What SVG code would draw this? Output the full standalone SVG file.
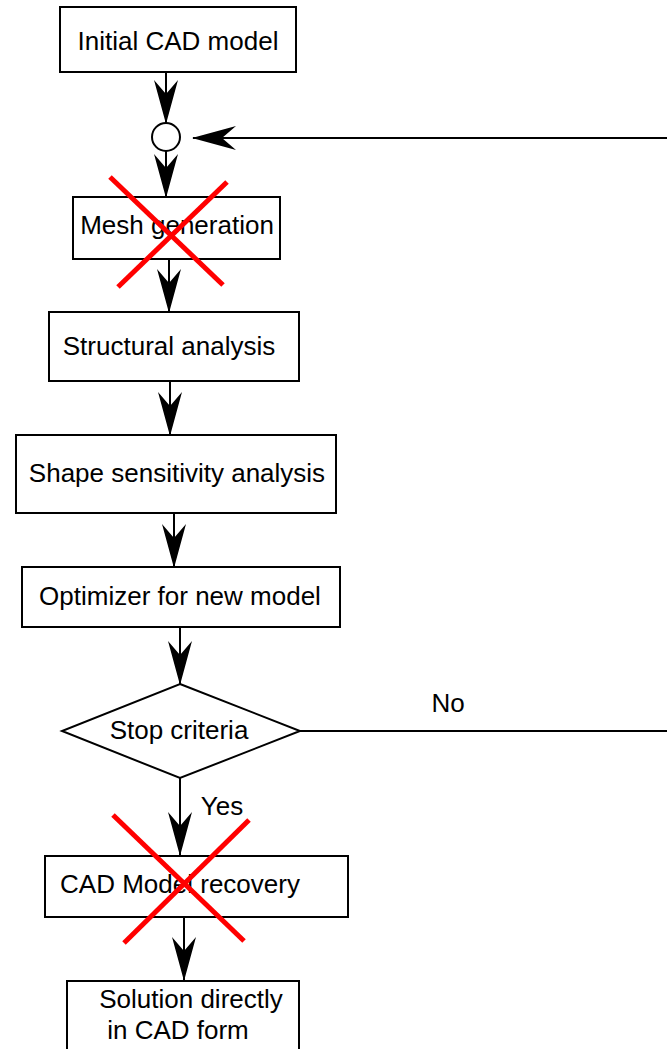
<svg xmlns="http://www.w3.org/2000/svg" width="667" height="1049" viewBox="0 0 667 1049">
<style>
.box{fill:#fff;stroke:#000;stroke-width:2}
.lbl{font-family:"Liberation Sans",Arial,sans-serif;font-size:26px;fill:#000;text-anchor:middle}
.edge{fill:none;stroke:#000;stroke-width:2}
.arr{marker-end:url(#ah)}
.cross{stroke:#ff0000;stroke-width:5;fill:none}
</style>
<defs>
<marker id="ah" viewBox="0 0 44 24" markerWidth="44" markerHeight="24" refX="43" refY="12" orient="auto" markerUnits="userSpaceOnUse">
<path d="M0,0 L44,12 L0,24 L14,12 Z" fill="#000"/>
</marker>
</defs>
<rect width="667" height="1049" fill="#fff"/>
<g id="connectors">
<line class="edge arr" x1="166" y1="72" x2="166" y2="123"/>
<line class="edge arr" x1="166" y1="151" x2="166" y2="197"/>
<line class="edge arr" x1="169" y1="259" x2="169" y2="312"/>
<line class="edge arr" x1="170" y1="381" x2="170" y2="435"/>
<line class="edge arr" x1="174" y1="513" x2="174" y2="567"/>
<line class="edge arr" x1="180" y1="627" x2="180" y2="684"/>
<line class="edge arr" x1="180" y1="778" x2="180" y2="855"/>
<line class="edge arr" x1="184" y1="917" x2="184" y2="980"/>
<polyline class="edge arr" points="300,731 700,731 700,138 193,138"/>
<text class="lbl" x="448" y="712">No</text>
<text class="lbl" x="222" y="815">Yes</text>
</g>
<g id="n_initial">
<rect class="box" x="60" y="7" width="236" height="65"/>
<text class="lbl" x="178" y="50">Initial CAD model</text>
</g>
<g id="n_junction">
<circle cx="166" cy="137" r="14" fill="#fff" stroke="#000" stroke-width="2"/>
</g>
<g id="n_mesh">
<rect class="box" x="73" y="197" width="207" height="62"/>
<text class="lbl" x="177" y="234">Mesh generation</text>
</g>
<g id="n_struct">
<rect class="box" x="49" y="312" width="250" height="69"/>
<text class="lbl" x="169" y="355">Structural analysis</text>
</g>
<g id="n_shape">
<rect class="box" x="16" y="435" width="320" height="78"/>
<text class="lbl" x="177" y="482">Shape sensitivity analysis</text>
</g>
<g id="n_opt">
<rect class="box" x="22" y="567" width="318" height="60"/>
<text class="lbl" x="180" y="605">Optimizer for new model</text>
</g>
<g id="n_stop">
<polygon class="box" points="180,684 300,731 180,778 62,731"/>
<text class="lbl" x="179" y="739">Stop criteria</text>
</g>
<g id="n_cad">
<rect class="box" x="45" y="856" width="303" height="61"/>
<text class="lbl" x="180" y="893">CAD Model recovery</text>
</g>
<g id="n_solution">
<rect class="box" x="67" y="981" width="232" height="100"/>
<text class="lbl" x="191" y="1008">Solution directly</text>
<text class="lbl" x="178" y="1039">in CAD form</text>
</g>
<g id="cross_mesh">
<line class="cross" x1="110" y1="177" x2="223" y2="285"/>
<line class="cross" x1="227" y1="182" x2="118" y2="287"/>
</g>
<g id="cross_cad">
<line class="cross" x1="113" y1="815" x2="244" y2="941"/>
<line class="cross" x1="249" y1="820" x2="124" y2="943"/>
</g>
</svg>
